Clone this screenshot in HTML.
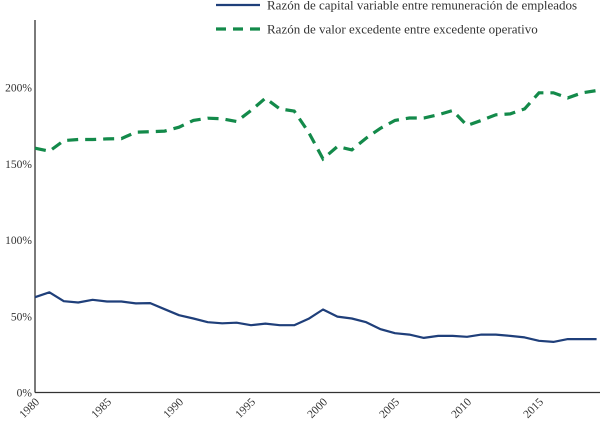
<!DOCTYPE html>
<html><head><meta charset="utf-8"><style>
html,body{margin:0;padding:0;background:#fff;}
svg{display:block;font-family:"Liberation Serif",serif;}
</style></head><body>
<svg id="chart" width="600" height="428"></svg>
<script>
const years = [];
for (let y = 1980; y <= 2019; y++) years.push(y);
const capitalVariable = [62.5,65.7,59.9,59,60.8,59.7,59.7,58.4,58.6,54.6,50.7,48.5,46.1,45.4,45.8,44.1,45.2,44.1,44.1,48.3,54.4,49.8,48.5,46.1,41.5,38.9,38,35.8,37.1,37.1,36.5,38,38,37.1,36.1,33.9,33.2,35,35,35];
const valorExcedente = [160.2,158.2,165.2,165.9,165.9,166.3,166.5,170.7,171,171.4,174,178.4,179.9,179.5,177.7,184.9,193,186,184.5,170.7,153.2,161.3,159.1,166.8,173.3,178.4,180,180,182.1,184.9,175.1,178.4,182.1,182.7,186,196.5,196.5,193.2,196.5,198];
const yTicks = [0,50,100,150,200];
const xTicks = [1980,1985,1990,1995,2000,2005,2010,2015];

const NS = "http://www.w3.org/2000/svg";
const svg = document.getElementById("chart");
const x0 = 35, pxPerYear = 14.4, yBase = 392.5, pxPerPct = 1.525;
const xs = v => x0 + (v - 1980) * pxPerYear;
const ys = v => yBase - v * pxPerPct;
function mk(tag, attrs, parent) {
  const e = document.createElementNS(NS, tag);
  for (const k in attrs) e.setAttribute(k, attrs[k]);
  (parent || svg).appendChild(e);
  return e;
}
// axes
const yAxis = mk("line",{x1:x0,y1:20,x2:x0,y2:yBase,stroke:"#333","stroke-width":1.3});


const xAxis = mk("line",{x1:x0,y1:yBase,x2:600,y2:yBase,stroke:"#333","stroke-width":1.3});


yTicks.forEach(t => {
  const tx = mk("text",{x:x0-3,y:ys(t)+4,"text-anchor":"end","font-size":11.5,fill:"#333"});
  tx.textContent = t + "%";
  
  
});
xTicks.forEach(t => {
  const X = xs(t);
  const tx = mk("text",{x:X+5,y:yBase+10,"text-anchor":"end","font-size":11.5,fill:"#333",transform:`rotate(-45 ${X+5} ${yBase+10})`});
  tx.textContent = t;
  
  
});
function path(vals){ return vals.map((v,i)=>(i?"L":"M")+xs(years[i]).toFixed(1)+" "+ys(v).toFixed(1)).join(" "); }
const blue = mk("path",{d:path(capitalVariable),fill:"none",stroke:"#1f3f7a","stroke-width":2.2,"stroke-linejoin":"round"});


const green = mk("path",{d:path(valorExcedente),fill:"none",stroke:"#138a4a","stroke-width":3.2,"stroke-dasharray":"11 7"});


// legend
const l1 = mk("line",{x1:216,y1:5,x2:260,y2:5,stroke:"#1f3f7a","stroke-width":2.2});


const t1 = mk("text",{x:267,y:9.5,"font-size":13,fill:"#333"});
t1.textContent = "Razón de capital variable entre remuneración de empleados";


const l2 = mk("line",{x1:216,y1:29,x2:262,y2:29,stroke:"#138a4a","stroke-width":3.2,"stroke-dasharray":"10 7"});


const t2 = mk("text",{x:267,y:33.5,"font-size":13,fill:"#333"});
t2.textContent = "Razón de valor excedente entre excedente operativo";


</script>
</body></html>
